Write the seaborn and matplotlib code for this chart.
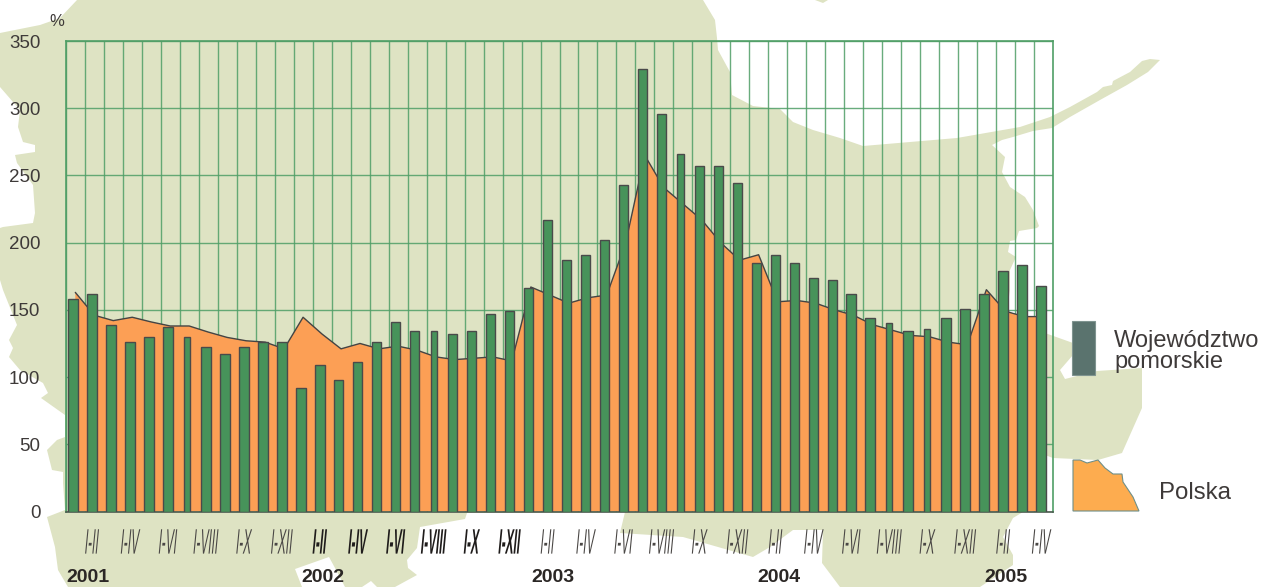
import numpy as np
import pandas as pd
import seaborn as sns
import matplotlib
matplotlib.use("Agg")
import matplotlib.pyplot as plt
from matplotlib.patches import Polygon, Rectangle
from matplotlib.patheffects import AbstractPathEffect
from matplotlib.ticker import FixedLocator
from matplotlib.transforms import Affine2D

# ---- data -----------------------------------------------------------
pomorskie = [158, 162, 139, 126, 130, 137, 130, 122, 117, 122, 126, 126,
             92, 109, 98, 111, 126, 141, 134, 134, 132, 134, 147, 149,
             166, 217, 187, 191, 202, 243, 329, 296, 266, 257, 257, 244,
             185, 191, 185, 174, 172, 162, 144, 140, 134, 136, 144, 151,
             162, 179, 183, 168]
polska = [163, 146, 142, 144.5, 141, 138, 138, 133.5, 129.5, 127, 126, 121,
          144.5, 132, 121, 125, 121, 123, 120, 115, 113, 114, 115, 112,
          167, 161, 155, 159, 161, 200, 265, 241, 229, 217, 200, 187,
          191, 156, 157, 155, 150, 146, 139, 135, 131, 130, 126, 124,
          165, 149, 145, 145]
period_labels = ["I-II", "I-IV", "I-VI", "I-VIII", "I-X", "I-XII"] * 4 + ["I-II", "I-IV"]
years = ["2001", "2002", "2003", "2004", "2005"]
year_start_idx = [-0.34, 12.03, 24.13, 36.03, 48.03]
y_ticks = [0, 50, 100, 150, 200, 250, 300, 350]
narrow_bars = [6, 19, 32, 43, 45]

# background map outline and legend shape, in picture pixels (decoration only)
map_main = [(77,0),(703,0),(715,20),(717,38),(718,50),(730,72),(732,95),(753,106),(780,109),
    (793,122),(813,130),(840,138),(863,146),(957,138),(1020,127),(1050,117),(1070,107),(1097,92),
    (1103,87),(1112,85),(1113,81),(1130,72),(1142,61),(1150,59),(1160,60),(1148,72),(1127,85),
    (1100,100),(1070,117),(1052,128),(1033,131),(1013,137),(1002,140),(992,145),(1005,157),
    (1002,172),(1010,187),(1025,197),(1033,210),(1039,226),(1037,228),(1019,231),(1016,240),
    (1010,241),(1008,252),(1016,257),(1010,270),(1010,290),(1007,310),(1045,333),(1073,343),
    (1073,355),(1060,370),(1065,379),(1097,371),(1142,368),(1142,408),(1122,453),(1098,460),
    (1053,458),(1045,455),(1023,512),(1013,518),(1003,537),(1013,555),(1013,565),(980,587),
    (840,587),(822,563),(823,530),(793,530),(770,547),(753,557),(683,537),(620,533),(625,512),
    (467,513),(465,519),(420,527),(417,548),(407,560),(408,568),(417,575),(395,587),(377,587),
    (371,581),(362,587),(345,587),(335,568),(329,557),(295,569),(302,587),(68,587),(58,570),
    (55,547),(47,517),(65,510),(63,483),(63,472),(52,470),(47,450),(57,440),(65,437),(65,415),
    (41,398),(48,393),(43,383),(20,370),(9,357),(13,348),(9,340),(17,325),(3,290),(0,280),
    (0,228),(3,227),(33,223),(35,213),(33,185),(17,163),(15,155),(35,152),(35,145),(23,142),
    (18,127),(20,110),(0,87),(0,33),(40,25),(60,18)]
map_blob = [(815,0),(828,0),(823,3)]
legend_shape = [(1073,460),(1080,460),(1087,463),(1098,460),(1105,468),(1113,474),(1122,474),
                (1123,482),(1133,497),(1139,511),(1073,511)]

W, H = 1263, 587
MAP, ORANGE, GREEN, GRID, DARK = "#DEE3C3", "#FC9F55", "#47935A", "#4F9E66", "#3E3A39"
df = pd.DataFrame({"idx": np.arange(len(pomorskie)), "pomorskie": pomorskie, "polska": polska})


class TallSlanted(AbstractPathEffect):
    """Draws a real text artist stretched vertically and slightly sheared, like the condensed labels."""
    def __init__(self, sy=3.0, skew=5.5):
        super().__init__()
        self.sy, self.skew = sy, skew

    def draw_path(self, renderer, gc, tpath, affine, rgbFace=None):
        e = tpath.get_extents()
        cx, cy = (e.x0 + e.x1) / 2, (e.y0 + e.y1) / 2
        t = Affine2D().translate(-cx, -cy).scale(1, self.sy).skew_deg(self.skew, 0).translate(cx, cy)
        renderer.draw_path(gc, tpath, t + affine, rgbFace)


sns.set_theme(style="white")
plt.rcParams["font.family"] = ["Liberation Sans", "DejaVu Sans"]
fig = plt.figure(figsize=(W / 100, H / 100), dpi=100, facecolor="white")

# picture-space layer behind and beside the chart
bg = fig.add_axes([0, 0, 1, 1], zorder=0)
bg.set_xlim(0, W); bg.set_ylim(H, 0); bg.axis("off")
bg.add_patch(Polygon(map_main, closed=True, fc=MAP, ec="none"))
bg.add_patch(Polygon(map_blob, closed=True, fc=MAP, ec="none"))
bg.add_patch(Rectangle((1072, 321), 23, 54, fc="#5A736E", ec="#7F9490", lw=0.8))
bg.add_patch(Polygon(legend_shape, closed=True, fc="#FDAC4F", ec="#6F8F88", lw=0.8))
bg.text(1114, 351.5, "Województwo\npomorskie", fontsize=17, color=DARK, va="center", ha="left", linespacing=0.9)
bg.text(1159, 493, "Polska", fontsize=17.3, color=DARK, va="center", ha="left")
bg.text(49, 22, "%", fontsize=12, color=DARK, va="center", ha="left")

# chart
left, right, top, bottom = 66, 1053, 41, 511.5
ax = fig.add_axes([left / W, 1 - bottom / H, (right - left) / W, (bottom - top) / H], zorder=1)
ax.patch.set_alpha(0)
x0 = -0.37
area_x = df["idx"] + 0.12
ax.fill_between(area_x, 0, df["polska"], facecolor=ORANGE, edgecolor="none", zorder=2)
sns.lineplot(x=area_x, y=df["polska"], color="#444444", linewidth=1, ax=ax, zorder=2.5, legend=False)
sns.barplot(data=df, x="idx", y="pomorskie", native_scale=True, width=0.5, color=GREEN, saturation=1,
            edgecolor="#4A4A4A", linewidth=1, ax=ax, zorder=3)
for i in narrow_bars:
    p = ax.patches[i]
    c = p.get_x() + p.get_width() / 2
    p.set_width(0.33); p.set_x(c - 0.165)

ax.set_xlim(x0, x0 + 52)
ax.set_ylim(0, 350)
ax.xaxis.set_minor_locator(FixedLocator(np.arange(52) + x0))
ax.set_yticks(y_ticks)
ax.set_xticks(np.arange(1, 52, 2))
ax.set_xticklabels(period_labels, fontsize=8.5, color="#4A4745")
for i, lab in enumerate(ax.get_xticklabels()):
    lab.set_path_effects([TallSlanted()])
    if 6 <= i <= 11:
        lab.set_color("#1F1C1B"); lab.set_fontweight("bold")
ax.tick_params(axis="x", which="both", length=0, pad=18)
ax.tick_params(axis="y", length=0, pad=18.5, labelsize=13.5, labelcolor=DARK)
ax.set_xlabel(""); ax.set_ylabel("")
ax.grid(False)
ax.grid(True, axis="x", which="minor", color=GRID, lw=1, alpha=0.85, zorder=1)
ax.grid(True, axis="y", which="major", color=GRID, lw=1, alpha=0.85, zorder=1)
ax.set_axisbelow(True)
for s in ax.spines.values():
    s.set_color(GRID); s.set_linewidth(1.2)
ax.spines["bottom"].set_color("#4A5A4E")

for y, xi in zip(years, year_start_idx):
    ax.annotate(y, xy=(xi, 0), xycoords=("data", "axes fraction"), xytext=(0, -(578 - bottom) * 0.72),
                textcoords="offset points", fontsize=14, fontweight="bold", color="#2B2725",
                ha="left", va="center", annotation_clip=False)

fig.savefig("out.png", dpi=100, facecolor="white")
